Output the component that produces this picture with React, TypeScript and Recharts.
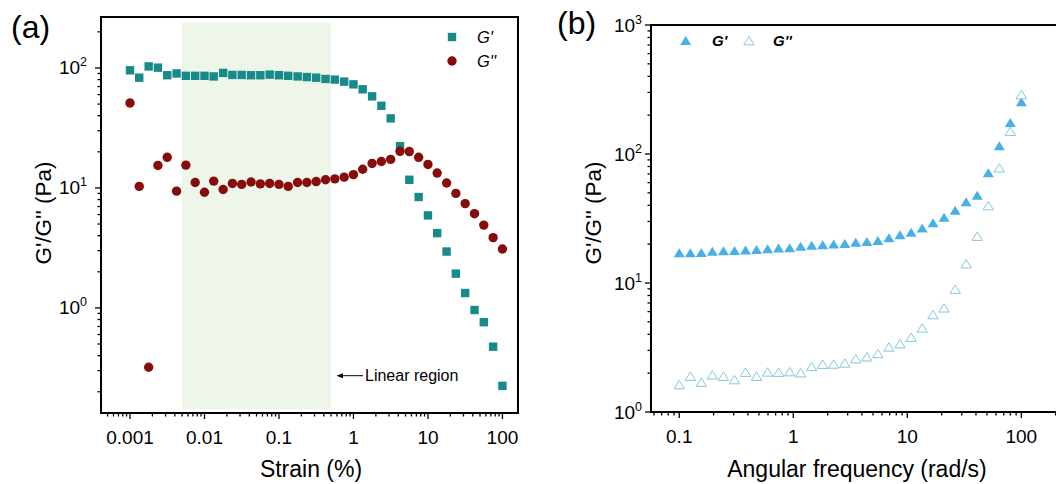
import React from 'react';
import { ScatterChart, Scatter, XAxis, YAxis, ReferenceArea } from 'recharts';

const FONT = '"Liberation Sans", Arial, Helvetica, sans-serif';

// (a) strain sweep
const strain = [
  0.001, 0.00133, 0.00178, 0.00237, 0.00316, 0.00422, 0.00562, 0.0075,
  0.01, 0.0133, 0.0178, 0.0237, 0.0316, 0.0422, 0.0562, 0.075,
  0.1, 0.133, 0.178, 0.237, 0.316, 0.422, 0.562, 0.75,
  1, 1.33, 1.78, 2.37, 3.16, 4.22, 5.62, 7.5,
  10, 13.3, 17.8, 23.7, 31.6, 42.2, 56.2, 75, 100,
];
const gPrimeA = [
  95.6, 83, 103, 100.6, 87, 90, 86, 86, 86, 85,
  91, 87.5, 87.5, 87, 87, 88, 87, 86, 85, 84,
  83, 81, 80, 77, 73, 66.4, 58, 48.4, 38, 22.3,
  11.7, 8.4, 5.9, 4.2, 2.95, 1.93, 1.33, 0.96, 0.76, 0.475, 0.224,
];
const gDoubleA = [
  51, 10.3, 0.32, 15.4, 18, 9.4, 15.5, 11.1, 9.2, 11.4,
  9.7, 10.9, 10.7, 11.2, 10.8, 10.9, 10.7, 10.3, 11.1, 11.1,
  11.3, 11.7, 11.9, 12.3, 12.9, 14.3, 16, 16.6, 17.3, 20.2,
  20.1, 18, 15.7, 13.3, 11, 9.0, 7.4, 6.1, 4.9, 3.85, 3.1,
];
const linearRegion = [0.005, 0.5];

// (b) frequency sweep
const omega = [
  0.1, 0.125, 0.156, 0.195, 0.244, 0.305, 0.381, 0.476, 0.595, 0.743,
  0.929, 1.16, 1.45, 1.81, 2.26, 2.83, 3.53, 4.42, 5.52, 6.9,
  8.62, 10.8, 13.5, 16.8, 21.0, 26.3, 32.8, 41.0, 51.3, 64.1, 80.0, 100,
];
const gPrimeB = [
  17.0, 17.0, 17.1, 17.5, 17.6, 17.7, 17.9, 18.0, 18.3, 18.5,
  18.6, 19.1, 19.4, 19.6, 19.9, 20.1, 20.5, 20.8, 21.2, 22.2,
  23.5, 24.5, 26.5, 29.0, 32.1, 36.3, 42.2, 47.5, 70.8, 115, 174, 252,
];
const gDoubleB = [
  1.62, 1.88, 1.69, 1.93, 1.88, 1.77, 2.02, 1.88, 2.03, 2.02,
  2.04, 2.0, 2.24, 2.33, 2.34, 2.38, 2.57, 2.66, 2.82, 3.17,
  3.36, 3.77, 4.45, 5.65, 6.37, 8.9, 14.0, 22.9, 39.5, 77.5, 149, 287,
];

// axes
const xMajorA = [0.001, 0.01, 0.1, 1, 10, 100];
const xLabelsA = ['0.001', '0.01', '0.1', '1', '10', '100'];
const yMajorA = [1, 10, 100];
const yExpA = ['0', '1', '2'];
const xDomainA = [0.000408, 161.8];
const yDomainA = [0.133, 266];

const xMajorB = [0.1, 1, 10, 100];
const xLabelsB = ['0.1', '1', '10', '100'];
const yMajorB = [1, 10, 100, 1000];
const yExpB = ['0', '1', '2', '3'];
const xDomainB = [0.0565, 327];
const yDomainB = [1, 1000];

const TEAL = '#178a8a';
const DARKRED = '#870c0c';
const BLUE = '#48b0e8';
const LIGHTBLUE = '#86c6e0';

function logTicks(lo: number, hi: number) {
  const out: number[] = [];
  for (let d = Math.floor(Math.log10(lo)); d <= Math.ceil(Math.log10(hi)); d++) {
    for (let k = 1; k <= 9; k++) {
      const v = Number((k * Math.pow(10, d)).toPrecision(6));
      if (v >= lo && v <= hi) out.push(v);
    }
  }
  return out;
}

const majorIndex = (v: number, majors: number[]) =>
  majors.findIndex((m) => Math.abs(Math.log10(m) - Math.log10(v)) < 1e-6);

const zip = (xs: number[], ys: number[]) => xs.map((x, i) => ({ x, y: ys[i] }));

function makeBottomTick(majors: number[], labels: string[]) {
  return (props: any) => {
    const { x, y, payload } = props;
    const idx = majorIndex(payload.value, majors);
    const major = idx >= 0;
    return (
      <g>
        <line x1={x} x2={x} y1={y} y2={y + (major ? 6 : 3.5)} stroke="#000" strokeWidth={1.3} />
        {major && (
          <text x={x} y={y + 31} textAnchor="middle" fontSize={19} fontFamily={FONT} fill="#000">
            {labels[idx]}
          </text>
        )}
      </g>
    );
  };
}

function makeLeftTick(majors: number[], exps: string[], gap: number) {
  return (props: any) => {
    const { x, y, payload } = props;
    const idx = majorIndex(payload.value, majors);
    const major = idx >= 0;
    return (
      <g>
        <line x1={x - (major ? 6 : 3.5)} x2={x} y1={y} y2={y} stroke="#000" strokeWidth={1.3} />
        {major && (
          <text x={x - gap} y={y + 6.5} textAnchor="end" fontSize={19} fontFamily={FONT} fill="#000">
            10<tspan dy={-8} fontSize={12.5}>{exps[idx]}</tspan>
          </text>
        )}
      </g>
    );
  };
}

const square = (p: any) => <rect x={p.cx - 4.2} y={p.cy - 4.2} width={8.4} height={8.4} fill={TEAL} />;
const dot = (p: any) => <circle cx={p.cx} cy={p.cy} r={4.7} fill={DARKRED} />;
const triUp = (p: any) => (
  <polygon points={`${p.cx},${p.cy - 5} ${p.cx + 5.5},${p.cy + 4} ${p.cx - 5.5},${p.cy + 4}`} fill={BLUE} />
);
const triOpen = (p: any) => (
  <polygon
    points={`${p.cx},${p.cy - 4.6} ${p.cx + 5.2},${p.cy + 3.8} ${p.cx - 5.2},${p.cy + 3.8}`}
    fill="#fff"
    stroke={LIGHTBLUE}
    strokeWidth={1}
  />
);

function StrainChart() {
  return (
    <ScatterChart width={530} height={484} margin={{ top: 17, right: 12, bottom: 0, left: 0 }}>
      <XAxis
        type="number"
        dataKey="x"
        scale="log"
        domain={xDomainA}
        allowDataOverflow
        ticks={logTicks(xDomainA[0], xDomainA[1])}
        interval={0}
        height={71}
        axisLine={false}
        tickLine={false}
        tickSize={0}
        tickMargin={0}
        tick={makeBottomTick(xMajorA, xLabelsA)}
      />
      <YAxis
        type="number"
        dataKey="y"
        scale="log"
        domain={yDomainA}
        allowDataOverflow
        ticks={logTicks(yDomainA[0], yDomainA[1])}
        interval={0}
        width={101}
        axisLine={false}
        tickLine={false}
        tickSize={0}
        tickMargin={0}
        tick={makeLeftTick(yMajorA, yExpA, 14)}
      />
      <ReferenceArea
        x1={linearRegion[0]}
        x2={linearRegion[1]}
        y1={0.143}
        y2={239}
        fill="#eef6ea"
        fillOpacity={1}
        stroke="none"
      />
      <Scatter data={zip(strain, gPrimeA)} shape={square} isAnimationActive={false} />
      <Scatter data={zip(strain, gDoubleA)} shape={dot} isAnimationActive={false} />
      <ReferenceArea
        x1={xDomainA[0]}
        x2={xDomainA[1]}
        y1={yDomainA[0]}
        y2={yDomainA[1]}
        fill="none"
        stroke="#000"
        strokeWidth={2}
      />
    </ScatterChart>
  );
}

function FrequencyChart() {
  return (
    <ScatterChart width={560} height={484} margin={{ top: 25, right: 20, bottom: 0, left: 0 }}>
      <XAxis
        type="number"
        dataKey="x"
        scale="log"
        domain={xDomainB}
        allowDataOverflow
        ticks={logTicks(xDomainB[0], xDomainB[1])}
        interval={0}
        height={72}
        axisLine={false}
        tickLine={false}
        tickSize={0}
        tickMargin={0}
        tick={makeBottomTick(xMajorB, xLabelsB)}
      />
      <YAxis
        type="number"
        dataKey="y"
        scale="log"
        domain={yDomainB}
        allowDataOverflow
        ticks={logTicks(yDomainB[0], yDomainB[1])}
        interval={0}
        width={111}
        axisLine={false}
        tickLine={false}
        tickSize={0}
        tickMargin={0}
        tick={makeLeftTick(yMajorB, yExpB, 9)}
      />
      <Scatter data={zip(omega, gPrimeB)} shape={triUp} isAnimationActive={false} />
      <Scatter data={zip(omega, gDoubleB)} shape={triOpen} isAnimationActive={false} />
      <ReferenceArea
        x1={xDomainB[0]}
        x2={xDomainB[1]}
        y1={yDomainB[0]}
        y2={yDomainB[1]}
        fill="none"
        stroke="#000"
        strokeWidth={2}
      />
    </ScatterChart>
  );
}

export default function App() {
  const txt = { fontFamily: FONT, fill: '#000' };
  return (
    <div style={{ position: 'absolute', left: 0, top: 0, width: 1056, height: 484, overflow: 'hidden', background: '#fff' }}>
      <div style={{ position: 'absolute', left: 0, top: 0 }}>
        <StrainChart />
      </div>
      <div style={{ position: 'absolute', left: 540, top: 0 }}>
        <FrequencyChart />
      </div>
      <svg width={1056} height={484} style={{ position: 'absolute', left: 0, top: 0, pointerEvents: 'none' }}>
        <text x={11} y={38} fontSize={32} {...txt}>(a)</text>
        <text x={557} y={34} fontSize={32} {...txt}>(b)</text>

        <text x={43} y={213} fontSize={22.5} textAnchor="middle" dy="0.36em" transform="rotate(-90 43 213)" {...txt}>
          G'/G'' (Pa)
        </text>
        <text x={593} y={213} fontSize={22.5} textAnchor="middle" dy="0.36em" transform="rotate(-90 593 213)" {...txt}>
          G'/G'' (Pa)
        </text>
        <text x={311} y={477} fontSize={23} textAnchor="middle" {...txt}>Strain (%)</text>
        <text x={857} y={477} fontSize={23} textAnchor="middle" {...txt}>Angular frequency (rad/s)</text>

        {/* legend (a) */}
        <rect x={447.8} y={32.8} width={8.4} height={8.4} fill={TEAL} />
        <text x={477} y={42.7} fontSize={16.5} fontStyle="italic" {...txt}>G'</text>
        <circle cx={452} cy={61} r={4.7} fill={DARKRED} />
        <text x={477} y={66.7} fontSize={16.5} fontStyle="italic" {...txt}>G''</text>

        {/* legend (b) */}
        <polygon points="685.7,36 691.2,45 680.2,45" fill={BLUE} />
        <text x={712} y={46.4} fontSize={15} fontStyle="italic" fontWeight="bold" {...txt}>G'</text>
        <polygon points="749,36.4 754.2,44.8 743.8,44.8" fill="#fff" stroke={LIGHTBLUE} strokeWidth={1} />
        <text x={773} y={46.4} fontSize={15} fontStyle="italic" fontWeight="bold" {...txt}>G''</text>

        {/* linear region annotation */}
        <line x1={341} y1={375.7} x2={363} y2={375.7} stroke="#000" strokeWidth={1} />
        <polygon points="336.5,375.7 343,373.2 343,378.2" fill="#000" />
        <text x={365} y={381.4} fontSize={16} {...txt}>Linear region</text>
      </svg>
    </div>
  );
}
